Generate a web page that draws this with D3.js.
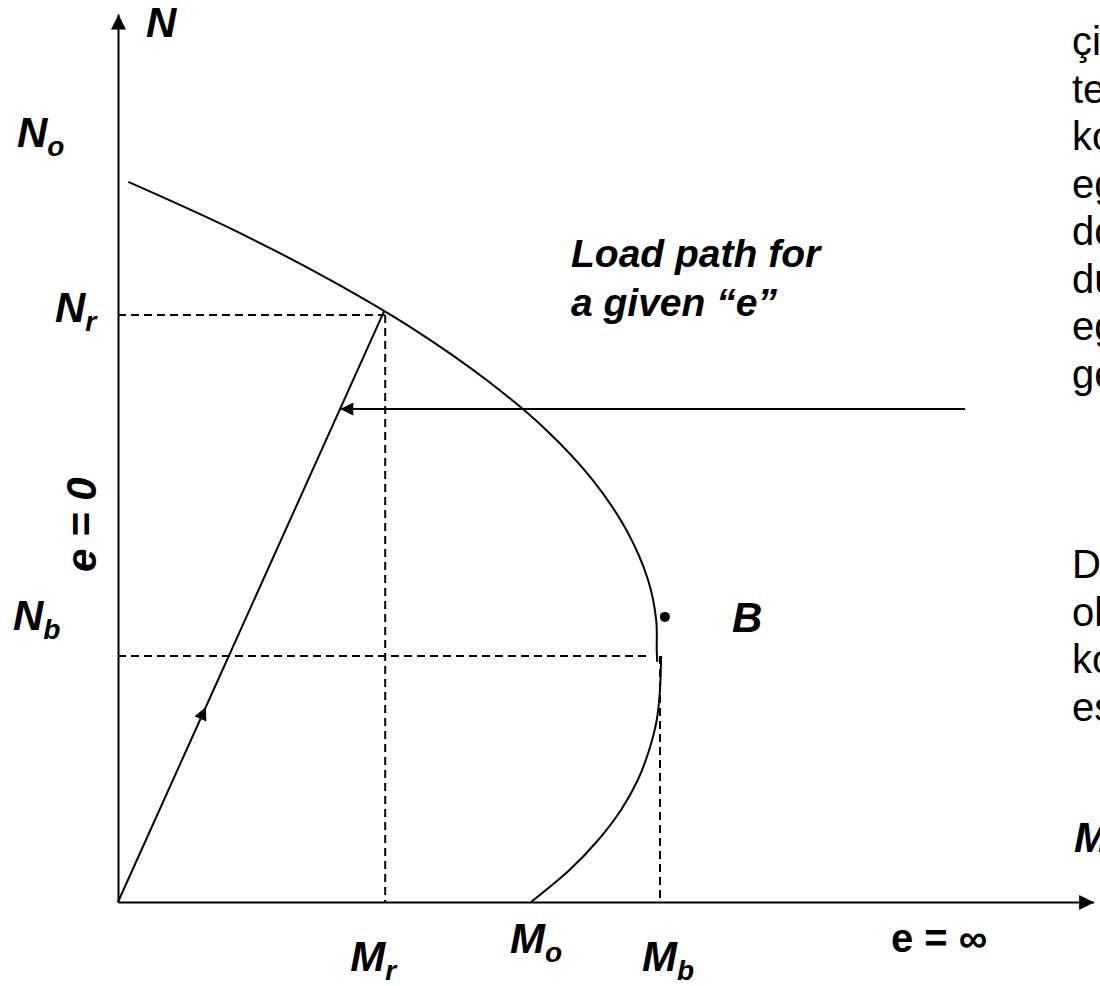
<!DOCTYPE html>
<html>
<head>
<meta charset="utf-8">
<script src="https://cdn.jsdelivr.net/npm/d3@7"></script>
<style>
  body { margin: 0; background: #fff; }
  text { font-family: "Liberation Sans", Arial, sans-serif; fill: #000; }
</style>
</head>
<body>
<div id="container"></div>
<script>
// interaction diagram values (M in units of Mb, N in units of Nb)
let axisMax = [1.8, 3.61];

let upperM = [0.019, 0.213, 0.392, 0.548, 0.680, 0.790, 0.876, 0.938, 0.978, 0.993, 0.994, 0.995];
let upperN = [2.927, 2.732, 2.528, 2.325, 2.122, 1.919, 1.715, 1.512, 1.309, 1.146, 1.024, 0.976];

let lowerM = [1.002, 1.000, 0.994, 0.980, 0.959, 0.928, 0.886, 0.833, 0.762];
let lowerN = [1.000, 0.862, 0.740, 0.618, 0.496, 0.374, 0.252, 0.130, 0];

let mNames = ["r", "o", "b"];
let mValues = [0.493, 0.762, 1.0];
let nNames = ["o", "r", "b"];
let nValues = [2.927, 2.386, 1.0];

let loadPathM = [0, 0.491];
let loadPathN = [0, 2.402];
let loadArrowAt = 0.33;

let pushM = [1.563, 0.41];
let pushN = 2.004;

let pointB = [1.009, 1.159];

let noteLines1 = ["çi", "te", "ko", "eg", "do", "du", "eg", "ge"];
let noteLines2 = ["D", "ol", "ko", "es"];

let w = 1100;
let h = 986;

let xScale = d3.scaleLinear().domain([0, 1]).range([118, 660]);
let yScale = d3.scaleLinear().domain([0, 1]).range([902, 656]);

let viz = d3.select("#container")
  .append("svg")
    .attr("width", w)
    .attr("height", h)
;

let defs = viz.append("defs");
function arrowMarker(id, len, wid){
  defs.append("marker")
      .attr("id", id)
      .attr("viewBox", "0 0 10 10")
      .attr("refX", 10)
      .attr("refY", 5)
      .attr("markerUnits", "userSpaceOnUse")
      .attr("markerWidth", len)
      .attr("markerHeight", wid)
      .attr("orient", "auto")
    .append("path")
      .attr("d", "M0,0L10,5L0,10Z")
      .attr("fill", "#000");
}
arrowMarker("axisHead", 16, 15);
arrowMarker("pathHead", 15, 13);

// AXES (no ticks, just the domain line with an arrow)
let xAxis = d3.axisBottom(d3.scaleLinear().domain([0, axisMax[0]]).range([xScale(0), xScale(axisMax[0])]))
  .tickValues([]).tickSizeOuter(0);
let yAxis = d3.axisLeft(d3.scaleLinear().domain([0, axisMax[1]]).range([yScale(0), yScale(axisMax[1])]))
  .tickValues([]).tickSizeOuter(0);

viz.append("g").attr("transform", "translate(0," + yScale(0) + ")").call(xAxis);
viz.append("g").attr("transform", "translate(" + xScale(0) + ",0)").call(yAxis);
viz.selectAll(".domain")
  .attr("stroke", "#000")
  .attr("stroke-width", 2)
  .attr("marker-end", "url(#axisHead)");

// DASHED GUIDES
let guides = viz.append("g")
  .attr("stroke", "#000")
  .attr("stroke-width", 2)
  .attr("stroke-dasharray", "8,5");

// Nr / Mr
guides.append("line")
  .attr("x1", xScale(0)).attr("y1", yScale(nValues[1]))
  .attr("x2", xScale(mValues[0])).attr("y2", yScale(nValues[1]));
guides.append("line")
  .attr("x1", xScale(mValues[0])).attr("y1", yScale(nValues[1]))
  .attr("x2", xScale(mValues[0])).attr("y2", yScale(0));
// Nb / Mb
guides.append("line")
  .attr("x1", xScale(0)).attr("y1", yScale(nValues[2]))
  .attr("x2", xScale(upperM[upperM.length - 1] - 0.012)).attr("y2", yScale(nValues[2]));
guides.append("line")
  .attr("x1", xScale(mValues[2])).attr("y1", yScale(nValues[2]))
  .attr("x2", xScale(mValues[2])).attr("y2", yScale(0));

// INTERACTION CURVE
let line = d3.line()
  .x(d => xScale(d[0]))
  .y(d => yScale(d[1]))
  .curve(d3.curveCatmullRom);

viz.append("path")
  .datum(upperM.map((m, i) => [m, upperN[i]]))
  .attr("d", line)
  .attr("fill", "none")
  .attr("stroke", "#000")
  .attr("stroke-width", 2);

viz.append("path")
  .datum(lowerM.map((m, i) => [m, lowerN[i]]))
  .attr("d", line)
  .attr("fill", "none")
  .attr("stroke", "#000")
  .attr("stroke-width", 2);

// LOAD PATH
let midM = loadPathM[0] + (loadPathM[1] - loadPathM[0]) * loadArrowAt;
let midN = loadPathN[0] + (loadPathN[1] - loadPathN[0]) * loadArrowAt;
viz.append("line")
  .attr("x1", xScale(loadPathM[0])).attr("y1", yScale(loadPathN[0]))
  .attr("x2", xScale(midM)).attr("y2", yScale(midN))
  .attr("stroke", "#000").attr("stroke-width", 2)
  .attr("marker-end", "url(#pathHead)");
viz.append("line")
  .attr("x1", xScale(midM)).attr("y1", yScale(midN))
  .attr("x2", xScale(loadPathM[1])).attr("y2", yScale(loadPathN[1]))
  .attr("stroke", "#000").attr("stroke-width", 2);

// horizontal load arrow
viz.append("line")
  .attr("x1", xScale(pushM[0])).attr("y1", yScale(pushN))
  .attr("x2", xScale(pushM[1])).attr("y2", yScale(pushN))
  .attr("stroke", "#000").attr("stroke-width", 2)
  .attr("marker-end", "url(#pathHead)");

// point B
viz.append("circle")
  .attr("cx", xScale(pointB[0]))
  .attr("cy", yScale(pointB[1]))
  .attr("r", 5)
  .attr("fill", "#000");

// LABELS
function subLabel(x, y, main, sub){
  let t = viz.append("text")
    .attr("x", x).attr("y", y)
    .attr("font-size", 42)
    .attr("font-weight", "bold")
    .attr("font-style", "italic");
  t.append("tspan").text(main);
  t.append("tspan").attr("font-size", 28).attr("dy", 9).text(sub);
  return t;
}

// N labels: left position and baseline offset per label
let nLabelX = {o: 17, r: 55, b: 13};
let nLabelDy = {o: -35, r: 7, b: -26};
nNames.forEach((s, i) => subLabel(nLabelX[s], yScale(nValues[i]) + nLabelDy[s], "N", s));

// M labels under the axis
let mLabelDx = {r: -35, o: -21, b: -18};
let mLabelDy = {r: 69, o: 51, b: 69};
mNames.forEach((s, i) => subLabel(xScale(mValues[i]) + mLabelDx[s], yScale(0) + mLabelDy[s], "M", s));

viz.append("text")
  .attr("x", xScale(0) + 28).attr("y", 37)
  .attr("font-size", 42).attr("font-weight", "bold").attr("font-style", "italic")
  .text("N");

viz.append("text")
  .attr("x", xScale(pointB[0]) + 67).attr("y", 632)
  .attr("font-size", 42).attr("font-weight", "bold").attr("font-style", "italic")
  .text("B");

viz.append("text")
  .attr("transform", "translate(96,572) rotate(-90)")
  .attr("font-size", 42).attr("font-weight", "bold").attr("font-style", "italic")
  .text("e = 0");

viz.append("text")
  .attr("x", 891).attr("y", 952)
  .attr("font-size", 40).attr("font-weight", "bold")
  .text("e = \u221E");

let loadLabel = viz.append("text")
  .attr("font-size", 39).attr("font-weight", "bold").attr("font-style", "italic");
loadLabel.append("tspan").attr("x", 571).attr("y", 267).text("Load path for");
loadLabel.append("tspan").attr("x", 571).attr("y", 316).text("a given \u201Ce\u201D");

// side notes (cut by the page edge)
let notes = viz.append("g").attr("font-size", 40);
notes.selectAll(".n1").data(noteLines1).enter()
  .append("text").attr("x", 1072).attr("y", (d, i) => 55 + i * 47.5).text(d => d);
notes.selectAll(".n2").data(noteLines2).enter()
  .append("text").attr("x", 1072).attr("y", (d, i) => 578 + i * 47.5).text(d => d);

viz.append("text")
  .attr("x", 1074).attr("y", 852)
  .attr("font-size", 42).attr("font-weight", "bold").attr("font-style", "italic")
  .text("M");
</script>
</body>
</html>
